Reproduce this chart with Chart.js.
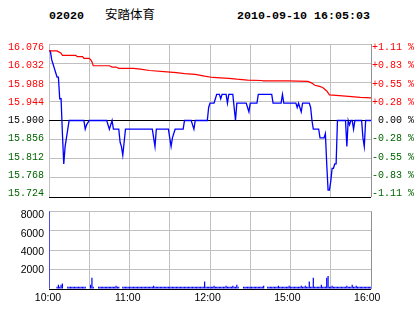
<!DOCTYPE html>
<html><head><meta charset="utf-8">
<script src="https://cdn.jsdelivr.net/npm/chart.js@4/dist/chart.umd.min.js"></script>
<style>
html,body{margin:0;padding:0;background:#fff;width:414px;height:314px;overflow:hidden}
#wrap{position:relative;width:414px;height:314px;background:#fff}
.hd{position:absolute;top:9px;font:bold 11.67px "Liberation Mono",monospace;color:#000;white-space:pre;line-height:14px}
#name{position:absolute;top:7px;left:105px;font:12.5px "Noto Sans CJK SC",sans-serif;color:#000;line-height:14px;white-space:pre}
#c1{position:absolute;left:0;top:0}
#c2{position:absolute;left:0;top:200px}
</style></head>
<body><div id="wrap">
<div class="hd" style="left:49px">02020</div>
<div id="name">安踏体育</div>
<div class="hd" style="left:237px">2010-09-10 16:05:03</div>
<canvas id="c1" width="414" height="208"></canvas>
<canvas id="c2" width="414" height="114"></canvas>
</div>
<script>
// ---- data ----
const prevClose = 15.900;
const priceTicks = [15.724, 15.768, 15.812, 15.856, 15.900, 15.944, 15.988, 16.032, 16.076];
const pctLabels = ['-1.11 %','-0.83 %','-0.55 %','-0.28 %',' 0.00 %','+0.28 %','+0.55 %','+0.83 %','+1.11 %'];
const timeGrid = [0, 30, 60, 90, 120, 150, 180, 210, 240];
const timeTickValues = [0, 60, 120, 180, 240];
const timeLabels = ['10:00', '11:00', '12:00', '15:00', '16:00'];
const volTicks = [0, 2000, 4000, 6000, 8000];
const volLabelTicks = [2000, 4000, 6000, 8000];

const priceTimes = [0,1,2,3,4,5,6,7,8,9,10,11,12,13,14,15,
 26,27,28,30,43,45,46,47,48,52,53,54,55,56,57,
 77,78,79,80,89,90,91,92,93,94,100,101,106,107,108,109,
 118,119,120,123,124,125,127,128,129,132,133,134,137,138,139,140,
 147,148,149,150,155,156,166,167,173,174,175,
 184,185,186,187,188,189,194,195,196,197,201,202,205,206,207,208,209,210,211,212,213,214,215,
 221,222,223,224,225,226,227,228,233,234,235,236,240];
const prices = [16.06,16.06,16.04,16.03,16.02,16.01,16.00,16.00,15.95,15.95,15.87,15.80,15.84,15.86,15.88,15.90,
 15.90,15.88,15.89,15.90,15.90,15.88,15.89,15.90,15.88,15.88,15.85,15.84,15.82,15.85,15.88,
 15.88,15.86,15.84,15.88,15.88,15.86,15.84,15.86,15.87,15.88,15.88,15.90,15.90,15.89,15.88,15.90,
 15.90,15.93,15.94,15.94,15.95,15.96,15.96,15.95,15.96,15.96,15.94,15.96,15.96,15.93,15.90,15.94,
 15.94,15.93,15.92,15.94,15.94,15.96,15.96,15.94,15.94,15.96,15.94,
 15.94,15.93,15.94,15.93,15.92,15.94,15.94,15.93,15.90,15.88,15.88,15.86,15.86,15.87,15.80,15.74,15.74,15.76,15.79,15.79,15.80,15.80,15.90,
 15.90,15.84,15.90,15.89,15.90,15.90,15.88,15.90,15.90,15.86,15.84,15.90,15.90];

const avgTimes = [0,6,9,10,20,21,25,26,30,31,32,33,45,47,50,52,63,68,75,88,95,101,109,116,122,134,140,148,158,160,178,193,196,198,201,204,207,209,214,221,232,240];
const avgPrices = [16.060,16.060,16.055,16.050,16.050,16.047,16.047,16.043,16.043,16.040,16.035,16.026,16.026,16.023,16.023,16.020,16.020,16.018,16.015,16.012,16.010,16.008,16.006,16.002,15.999,15.997,15.995,15.993,15.992,15.991,15.991,15.990,15.986,15.981,15.979,15.976,15.968,15.959,15.958,15.956,15.953,15.952];

// volume per minute, minute 0 .. 240
const volumes = [
 12000,0,0,0,0,0,230,450,230,450,
 570,0,0,0,230,230,230,230,230,230,
 230,230,230,230,230,230,230,230,0,0,
 0,430,1170,230,0,0,0,230,230,230,
 230,230,230,230,230,230,230,230,230,230,
 330,230,230,0,0,230,230,230,230,230,
 230,230,230,230,230,230,230,230,230,230,
 230,230,230,230,230,230,230,230,330,230,
 230,230,230,230,230,230,230,230,230,230,
 230,230,230,230,230,230,230,230,230,230,
 230,230,230,230,230,230,230,230,230,230,
 230,230,230,230,230,230,770,230,230,230,
 230,230,230,330,230,230,230,230,230,230,
 230,230,330,230,230,230,230,330,230,230,
 430,230,0,0,0,230,230,230,230,230,
 230,230,230,230,230,230,230,230,230,230,
 330,0,0,230,230,230,230,230,230,230,
 230,330,230,230,230,230,230,230,230,330,
 230,230,230,230,230,230,230,230,330,230,
 230,330,230,230,770,230,230,1170,230,230,
 230,230,230,430,230,230,230,1170,1330,230,
 230,330,230,230,230,230,230,230,230,230,
 230,230,330,230,230,230,430,230,230,330,
 230,230,230,230,230,230,230,230,230,230,
 230];

// ---- helpers ----
const GRID = '#c0c0c0';
const EDGE = '#909090';
const MONO = '"Liberation Mono", "DejaVu Sans Mono", monospace';
const SANS = '"Liberation Sans", Arial, sans-serif';
const NOGRID = {display: false, drawTicks: false, tickLength: 0};
const near = (a, b) => Math.abs(a - b) < 1e-6;
const priceColor = v => near(v, prevClose) ? '#000000' : (v > prevClose ? '#ff0000' : '#006400');
const setTicks = arr => s => { s.ticks = arr.map(v => ({value: v})); };

const blueData = priceTimes.map((t, i) => ({x: t, y: prices[i]}));
const avgData = avgTimes.map((t, i) => ({x: t, y: avgPrices[i]}));
const volData = volumes.map((v, i) => ({x: i, y: v}));

const common = {
  responsive: false, animation: false, events: [],
  plugins: {legend: {display: false}, tooltip: {enabled: false}, title: {display: false}}
};

function draw() {
new Chart(document.getElementById('c1'), {
  type: 'line',
  data: {datasets: [
    {data: avgData, borderColor: '#ff0000', borderWidth: 1.2, pointRadius: 0, tension: 0, xAxisID: 'x', yAxisID: 'y'},
    {data: blueData, borderColor: '#0000ff', borderWidth: 1.3, pointRadius: 0, tension: 0, xAxisID: 'x', yAxisID: 'y'}
  ]},
  options: Object.assign({}, common, {
    layout: {padding: {top: 44, bottom: 4, left: 0, right: 0}},
    scales: {
      x: {type: 'linear', position: 'bottom', min: 0, max: 240, afterBuildTicks: setTicks(timeGrid),
          ticks: {display: false}, border: {display: false},
          grid: {drawTicks: false, tickLength: 0, color: c => near(c.tick.value, 240) ? EDGE : GRID},
          afterFit: s => { s.height = 0; }},
      y: {type: 'linear', position: 'left', min: 15.724, max: 16.076, afterBuildTicks: setTicks(priceTicks),
          ticks: {display: false}, border: {display: false},
          grid: {drawTicks: false, tickLength: 0, color: c => (near(c.tick.value, prevClose) || near(c.tick.value, 15.724)) ? '#000000' : GRID},
          afterFit: s => { s.width = 0; }},
      yl: {type: 'linear', position: 'left', min: 15.7154, max: 16.0845, afterBuildTicks: setTicks(priceTicks),
          grid: NOGRID, border: {display: false},
          ticks: {autoSkip: false, padding: 5, font: {family: MONO, size: 10},
                  color: c => priceColor(c.tick.value), callback: v => v.toFixed(3)},
          afterFit: s => { s.width = 49; }},
      yr: {type: 'linear', position: 'right', min: 15.7154, max: 16.0845, afterBuildTicks: setTicks(priceTicks),
          grid: NOGRID, border: {display: false},
          ticks: {autoSkip: false, padding: 1, font: {family: MONO, size: 10},
                  color: c => priceColor(c.tick.value), callback: (v, i) => pctLabels[i]},
          afterFit: s => { s.width = 43; }}
    }
  })
});

new Chart(document.getElementById('c2'), {
  type: 'bar',
  data: {datasets: [
    {data: volData, backgroundColor: '#0000ff', borderWidth: 0, barPercentage: 0.9, categoryPercentage: 1, xAxisID: 'x', yAxisID: 'y'}
  ]},
  options: Object.assign({}, common, {
    layout: {padding: {top: 9, bottom: 0, left: 0, right: 43}},
    scales: {
      x: {type: 'linear', position: 'bottom', min: 0, max: 240, offset: false, afterBuildTicks: setTicks(timeGrid),
          ticks: {display: false}, border: {display: false},
          grid: {offset: false, drawTicks: false, tickLength: 0, color: c => near(c.tick.value, 240) ? EDGE : GRID},
          afterFit: s => { s.height = 0; }},
      xl: {type: 'linear', position: 'bottom', min: 0.75, max: 242.86, offset: false, afterBuildTicks: setTicks(timeTickValues),
          grid: NOGRID, border: {display: false},
          ticks: {autoSkip: false, maxRotation: 0, padding: 3, color: '#000', font: {family: SANS, size: 10.5},
                  callback: (v, i) => timeLabels[i]},
          afterFit: s => { s.height = 25; }},
      y: {type: 'linear', position: 'left', min: 0, max: 8000, afterBuildTicks: setTicks(volTicks),
          ticks: {display: false}, border: {display: false},
          grid: {drawTicks: false, tickLength: 0, color: c => near(c.tick.value, 0) ? '#000000' : GRID},
          afterFit: s => { s.width = 0; }},
      yl: {type: 'linear', position: 'left', min: -82, max: 8459, afterBuildTicks: setTicks(volLabelTicks),
          grid: NOGRID, border: {display: false},
          ticks: {autoSkip: false, padding: 5, color: '#000', font: {family: SANS, size: 10.5},
                  callback: v => String(v)},
          afterFit: s => { s.width = 49; }}
    }
  })
});
}

const fontsToLoad = ['10px "Liberation Mono"', '10.5px "Liberation Sans"', 'bold 11.67px "Liberation Mono"', '12.5px "Noto Sans CJK SC"'];
if (document.fonts && document.fonts.load) {
  Promise.all(fontsToLoad.map(f => document.fonts.load(f))).then(draw, draw);
} else {
  draw();
}
</script>
</body></html>
